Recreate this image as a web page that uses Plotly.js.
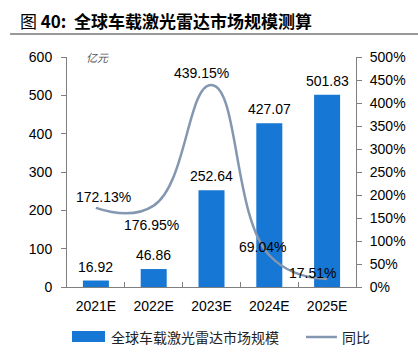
<!DOCTYPE html>
<html><head><meta charset="utf-8">
<script src="https://cdn.plot.ly/plotly-3.0.1.min.js"></script>
<style>html,body{margin:0;padding:0;background:#fff}#chart{width:418px;height:353px}</style>
</head><body><div id="chart"></div>
<script>
const categories = ['2021E','2022E','2023E','2024E','2025E'];
const marketSize = [16.92, 46.86, 252.64, 427.07, 501.83];
const yoy = [172.13, 176.95, 439.15, 69.04, 17.51];
const barName = '全球车载激光雷达市场规模';
const lineName = '同比';
const titleText = '图 <b>40:  全球车载激光雷达市场规模测算</b>';
const unitText = '亿元';

const numFont = 'Liberation Sans, Arial, sans-serif';
const cjkFont = 'Noto Sans CJK SC, sans-serif';
const barColor = '#1777D4';
const lineColor = '#8497B0';

const barTrace = {type:'bar', x:categories, y:marketSize, marker:{color:barColor}, width:0.45, showlegend:false, hoverinfo:'skip'};
const lineTrace = {type:'scatter', mode:'lines', x:categories, y:yoy, yaxis:'y2', line:{color:lineColor, width:2.5, shape:'spline', smoothing:1.3}, showlegend:false, hoverinfo:'skip'};

const annotations = [];
marketSize.forEach((v,i)=>annotations.push({x:categories[i], y:v, xref:'x', yref:'y', text:v.toFixed(2), showarrow:false, yanchor:'middle', yshift:14, font:{family:numFont, size:14, color:'#000'}}));
const lblShift = [[8,11],[-2,-19],[-10,12],[-7,8],[-15,6]];
yoy.forEach((v,i)=>annotations.push({x:categories[i], y:v, xref:'x', yref:'y2', text:v.toFixed(2)+'%', showarrow:false, yanchor:'middle', xshift:lblShift[i][0], yshift:lblShift[i][1], font:{family:numFont, size:14, color:'#000'}}));
annotations.push({xref:'paper', yref:'paper', x:0.104, y:1.0, xanchor:'center', yanchor:'middle', text:'<i>'+unitText+'</i>', showarrow:false, font:{family:cjkFont, size:11, color:'#555'}});
// legend
annotations.push({xref:'paper', yref:'paper', x:0.145, y:-0.2174, xanchor:'left', yanchor:'middle', text:barName, showarrow:false, font:{family:cjkFont, size:14, color:'#222'}});
annotations.push({xref:'paper', yref:'paper', x:0.944, y:-0.2174, xanchor:'left', yanchor:'middle', text:lineName, showarrow:false, font:{family:cjkFont, size:14, color:'#222'}});

const shapes = [
  {type:'line', xref:'paper', yref:'paper', x0:-0.197, x1:1.215, y0:1.1, y1:1.1, line:{color:'#333', width:1}},
  {type:'rect', xref:'paper', yref:'paper', x0:0.0173, x1:0.1315, y0:-0.1913, y1:-0.239, fillcolor:barColor, line:{width:0}},
  {type:'line', xref:'paper', yref:'paper', x0:0.827, x1:0.934, y0:-0.2174, y1:-0.2174, line:{color:lineColor, width:2.5}}
];

const layout = {
  width:418, height:353, margin:{l:67, r:62, t:57, b:66},
  paper_bgcolor:'#fff', plot_bgcolor:'#fff',
  title:{text:titleText, x:20/418, xanchor:'left', y:1-22/353, yanchor:'middle', yref:'container', font:{family:cjkFont, size:17, color:'#000'}},
  xaxis:{type:'category', showgrid:false, showline:true, linecolor:'#7f7f7f', ticks:'inside', tickson:'boundaries', ticklen:5, tickcolor:'#7f7f7f', tickfont:{family:numFont, size:14, color:'#000'}, ticklabelstandoff:6, fixedrange:true},
  yaxis:{range:[0,600], dtick:100, showgrid:false, zeroline:false, showline:true, linecolor:'#7f7f7f', ticks:'outside', ticklen:5, tickcolor:'#7f7f7f', tickfont:{family:numFont, size:14, color:'#000'}, ticklabelstandoff:6},
  yaxis2:{range:[0,500], dtick:50, ticksuffix:'%', overlaying:'y', side:'right', showgrid:false, zeroline:false, showline:true, linecolor:'#7f7f7f', ticks:'outside', ticklen:5, tickcolor:'#7f7f7f', tickfont:{family:numFont, size:14, color:'#000'}, ticklabelstandoff:5},
  annotations:annotations, shapes:shapes, showlegend:false
};
Plotly.newPlot('chart', [barTrace, lineTrace], layout, {staticPlot:true, displayModeBar:false});
</script></body></html>
